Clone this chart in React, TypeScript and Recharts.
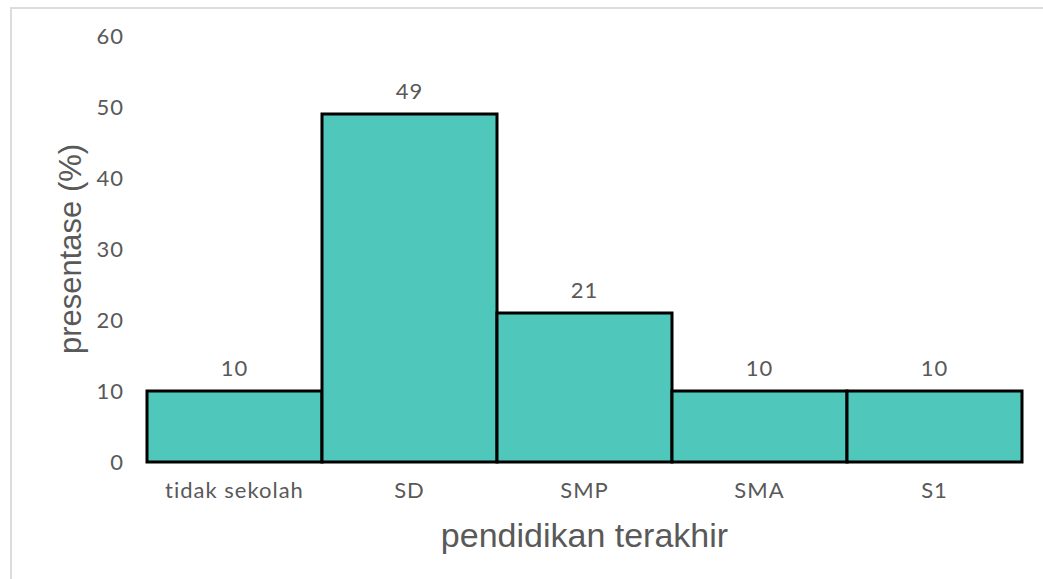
import { BarChart, Bar, XAxis, YAxis, LabelList, Label } from "recharts";

const categories = ["tidak sekolah", "SD", "SMP", "SMA", "S1"];
const percentages = [10, 49, 21, 10, 10];
const yTicks = [0, 10, 20, 30, 40, 50, 60];

const data = categories.map((name, i) => ({ name, value: percentages[i] }));

const gray = "#595959";
const tickFont = {
  fill: gray,
  fontSize: 22,
  fontFamily: "Lato, 'Open Sans', sans-serif",
  letterSpacing: 1,
};

export default function App() {
  return (
    <div
      style={{
        position: "absolute",
        left: 0,
        top: 0,
        width: 1043,
        height: 579,
        background: "#fff",
      }}
    >
      <div
        style={{
          position: "absolute",
          left: 10,
          top: 7,
          right: 0,
          bottom: 0,
          borderLeft: "2px solid #dcdcdc",
          borderTop: "2px solid #dcdcdc",
        }}
      />
      <BarChart
        width={1043}
        height={579}
        data={data}
        margin={{ top: 36, right: 21, bottom: 0, left: 0 }}
        barCategoryGap={0}
        style={{ position: "absolute", left: 0, top: 0 }}
      >
        <XAxis
          dataKey="name"
          axisLine={false}
          tickLine={false}
          tickSize={0}
          tickMargin={20}
          height={117}
          tick={tickFont}
        >
          <Label
            value="pendidikan terakhir"
            position="insideTop"
            offset={61}
            fill={gray}
            fontSize={34}
            fontFamily="'Liberation Sans', Arial, sans-serif"
          />
        </XAxis>
        <YAxis
          width={147}
          domain={[0, 60]}
          ticks={yTicks}
          axisLine={false}
          tickLine={false}
          tickSize={0}
          tickMargin={23}
          tick={tickFont}
        >
          <Label
            value="presentase (%)"
            angle={-90}
            position="insideLeft"
            offset={70}
            fill={gray}
            fontSize={31}
            fontFamily="'Liberation Sans', Arial, sans-serif"
            style={{ textAnchor: "middle" }}
          />
        </YAxis>
        <Bar dataKey="value" fill="#4fc7ba" stroke="#000" strokeWidth={3} isAnimationActive={false}>
          <LabelList
            dataKey="value"
            position="top"
            offset={15}
            fill={gray}
            fontSize={22}
            letterSpacing={1}
            fontFamily="Lato, 'Open Sans', sans-serif"
          />
        </Bar>
      </BarChart>
    </div>
  );
}
